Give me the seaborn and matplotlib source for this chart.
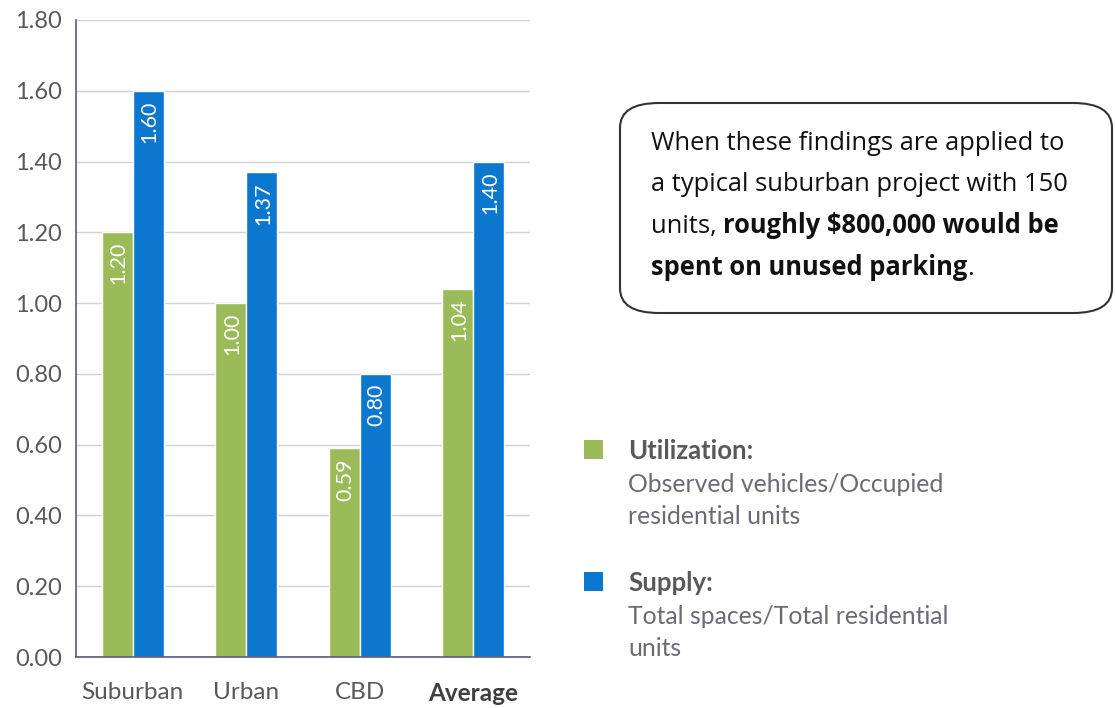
import pandas as pd
import matplotlib.pyplot as plt
import seaborn as sns
from matplotlib.patches import FancyBboxPatch, Rectangle

categories = ["Suburban", "Urban", "CBD", "Average"]
utilization = [1.20, 1.00, 0.59, 1.04]
supply = [1.60, 1.37, 0.80, 1.40]
series_names = ["Utilization", "Supply"]
series_colors = ["#9BBB59", "#0B77CF"]
y_ticks = [0.0, 0.2, 0.4, 0.6, 0.8, 1.0, 1.2, 1.4, 1.6, 1.8]

df = pd.DataFrame({
    "category": categories * 2,
    "series": [series_names[0]] * len(categories) + [series_names[1]] * len(categories),
    "value": utilization + supply,
})

sns.set_style("white")
plt.rcParams["font.family"] = ["Lato", "DejaVu Sans"]

W, H = 1115, 708
fig = plt.figure(figsize=(W / 100, H / 100), dpi=100)

def fx(px):
    return px / W

def fy(py):
    return 1 - py / H

ax = fig.add_axes([fx(76), fy(657), fx(530) - fx(76), fy(20) - fy(657)])

sns.barplot(data=df, x="category", y="value", hue="series", order=categories,
            hue_order=series_names, palette=series_colors, width=0.55,
            saturation=1, legend=False, ax=ax)

axis_col = "#5A5A7A"
tick_col = "#595959"
ax.set_ylim(0, 1.8)
ax.set_xlim(-0.5, len(categories) - 0.5)
ax.set_yticks(y_ticks)
ax.set_yticklabels([f"{t:.2f}" for t in y_ticks], fontsize=17, color=tick_col)
ax.yaxis.grid(True, color="#D0D0D8", linewidth=1)
ax.set_axisbelow(True)
ax.set_xlabel("")
ax.set_ylabel("")
for side in ["top", "right"]:
    ax.spines[side].set_visible(False)
for side in ["left", "bottom"]:
    ax.spines[side].set_color(axis_col)
    ax.spines[side].set_linewidth(1.2)

ax.tick_params(axis="y", length=5, color=axis_col, pad=5, direction="out")
ax.tick_params(axis="x", which="major", length=0, pad=18)
ax.set_xticks([i + 0.5 for i in range(len(categories))], minor=True)
ax.tick_params(axis="x", which="minor", length=5, color=axis_col, direction="out")
ax.set_xticklabels(categories, fontsize=17.5, color=tick_col)
labels = ax.get_xticklabels()
labels[-1].set_fontweight("bold")
labels[-1].set_color("#3F3F3F")

for container in ax.containers:
    for bar in container:
        h = bar.get_height()
        ax.annotate(f"{h:.2f}", (bar.get_x() + bar.get_width() / 2, h),
                    xytext=(1, -7), textcoords="offset points",
                    rotation=90, ha="center", va="top", color="white", fontsize=15.5)

# callout box
box = FancyBboxPatch((fx(620), fy(313)), fx(1112) - fx(620), fy(103) - fy(313),
                     boxstyle="round,pad=0,rounding_size=0.035", transform=fig.transFigure,
                     facecolor="white", edgecolor="#333333", linewidth=1.5)
fig.patches.append(box)

renderer = fig.canvas.get_renderer()
cfont = dict(fontsize=18.4, color="#111111", va="baseline", family=["Open Sans", "DejaVu Sans"])

def text_run(x_px, y_px, parts):
    # parts: list of (text, weight); place them one after another on a line
    x = fx(x_px)
    for s, weight in parts:
        t = fig.text(x, fy(y_px), s, fontweight=weight, **cfont)
        bb = t.get_window_extent(renderer)
        x = bb.x1 / fig.bbox.width

text_run(651, 150, [("When these findings are applied to", "normal")])
text_run(651, 191, [("a typical suburban project with 150", "normal")])
text_run(651, 233, [("units, ", "normal"), ("roughly \\$800,000 would be", "bold")])
text_run(651, 275, [("spent on unused parking", "bold"), (".", "normal")])

# legend
leg_col = "#6B6B78"
legend_rows = [
    (series_colors[0], series_names[0] + ":", ["Observed vehicles/Occupied", "residential units"], 451),
    (series_colors[1], series_names[1] + ":", ["Total spaces/Total residential", "units"], 583),
]
for color, title, desc, ymid in legend_rows:
    sq = Rectangle((fx(584), fy(ymid + 8)), fx(19), fy(0) - fy(19), transform=fig.transFigure,
                   facecolor=color, edgecolor="none")
    fig.patches.append(sq)
    fig.text(fx(628), fy(ymid), title, fontsize=18.5, fontweight="bold", color="#595959", va="center")
    for i, line in enumerate(desc):
        fig.text(fx(628), fy(ymid + 33 + 32 * i), line, fontsize=17.8, color=leg_col, va="center")

fig.savefig("out.png", dpi=100)
